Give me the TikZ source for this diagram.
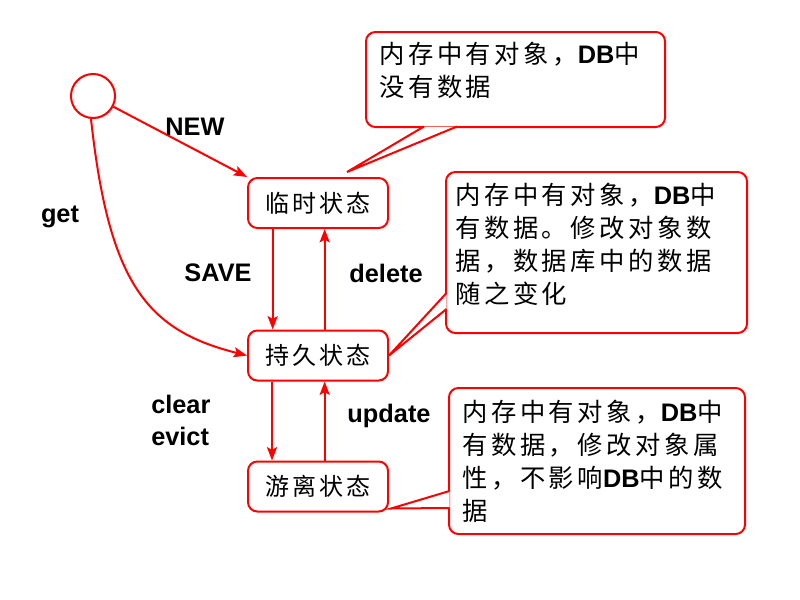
\documentclass[tikz,border=0pt]{standalone}
\usepackage{fontspec}
\setmainfont{Liberation Sans}
\newfontfamily\zhfont[LetterSpace=14]{Noto Sans CJK SC}
\newfontfamily\zhstate[LetterSpace=12]{Noto Sans CJK SC}
\usetikzlibrary{arrows.meta,shadows}

\begin{document}
\begin{tikzpicture}[
        x=0.75pt, y=-0.75pt,
        >={Stealth[length=10pt, width=7.5pt, inset=2pt]},
        start/.style={circle, draw=red, line width=1.5pt, fill=white, minimum size=33pt, inner sep=0pt,
            drop shadow={opacity=0.3, shadow xshift=1pt, shadow yshift=-1pt}},
        state/.style={draw=red, line width=1.5pt, rounded corners=7pt, fill=white, minimum width=105pt,
            minimum height=37.5pt, inner sep=0pt, font=\zhstate\fontsize{18}{20}\selectfont},
        note/.style={draw=red, line width=1.5pt, rounded corners=7pt, fill=white, inner sep=0pt},
        notetext/.style={anchor=north west, align=left, inner sep=0pt, font=\zhfont\fontsize{19}{24.75}\selectfont},
        tip/.style={draw=red, fill=white, line width=1.5pt, line join=miter},
        link/.style={->, draw=red, line width=1.5pt},
        tag/.style={align=left, inner sep=0pt, font=\bfseries\fontsize{19}{24}\selectfont}
    ]

        \useasboundingbox (0,0) rectangle (800,600);

        % ==================================================
        % ESTADOS
        % ==================================================

        \node[start] (init) at (93,96) {};

        \node[state] (temp) at (318,203) {临时状态};
        \node[state] (pers) at (318,355.5) {持久状态};
        \node[state] (det)  at (318,486.5) {游离状态};

        % Setas
        \draw[link] (init) -- (temp.north west);
        \draw[link] (init.265) .. controls +(18,165) and +(-100,-25) .. (pers.west);
        \draw[link] ([xshift=-34pt]temp.south) -- ([xshift=-34pt]pers.north);
        \draw[link] ([xshift=5pt]pers.north) -- ([xshift=5pt]temp.south);
        \draw[link] ([xshift=-34.5pt]pers.south) -- ([xshift=-34.5pt]det.north);
        \draw[link] ([xshift=5pt]det.north) -- ([xshift=5pt]pers.south);

        % Rotulos
        \node[tag] (lnew)    at (195,127) {NEW};
        \node[tag] (lget)    at (60,217)  {get};
        \node[tag] (lsave)   at (218,273) {SAVE};
        \node[tag] (ldelete) at (386,273) {delete};
        \node[tag, anchor=west] (lclear) at (151,420) {clear\\evict};
        \node[tag] (lupdate) at (389,416) {update};

        % ==================================================
        % NOTAS
        % ==================================================

        \node[note, minimum width=224.25pt, minimum height=71.25pt] (n1) at (515.5,79.5) {};
        \filldraw[tip] ([shift={(59,-1.5)}]n1.south west) -- ([shift={(29,-5)}]temp.north)
            -- ([shift={(92,-1.5)}]n1.south west);
        \node[notetext] (t1) at ([shift={(14,11)}]n1.north west)
            {内存中有对象，{\rmfamily\bfseries DB}中\\没有数据};

        \node[note, minimum width=225.75pt, minimum height=120.75pt] (n2) at (596.5,252.5) {};
        \filldraw[tip] ([shift={(1.5,-41)}]n2.south west) -- (pers.east)
            -- ([shift={(1.5,-25)}]n2.south west);
        \node[notetext] (t2) at ([shift={(10,12)}]n2.north west)
            {内存中有对象，{\rmfamily\bfseries DB}中\\有数据。修改对象数\\据，数据库中的数据\\随之变化};

        \node[note, minimum width=222pt, minimum height=109.5pt] (n3) at (597,461) {};
        \filldraw[tip] ([shift={(1.5,-44)}]n3.south west) -- ([shift={(2,-4)}]det.south east)
            -- ([shift={(1.5,-27)}]n3.south west);
        \node[notetext] (t3) at ([shift={(14,13)}]n3.north west)
            {内存中有对象，{\rmfamily\bfseries DB}中\\有数据，修改对象属\\性，不影响{\rmfamily\bfseries DB}中的数\\据};
    \end{tikzpicture}
\end{document}
